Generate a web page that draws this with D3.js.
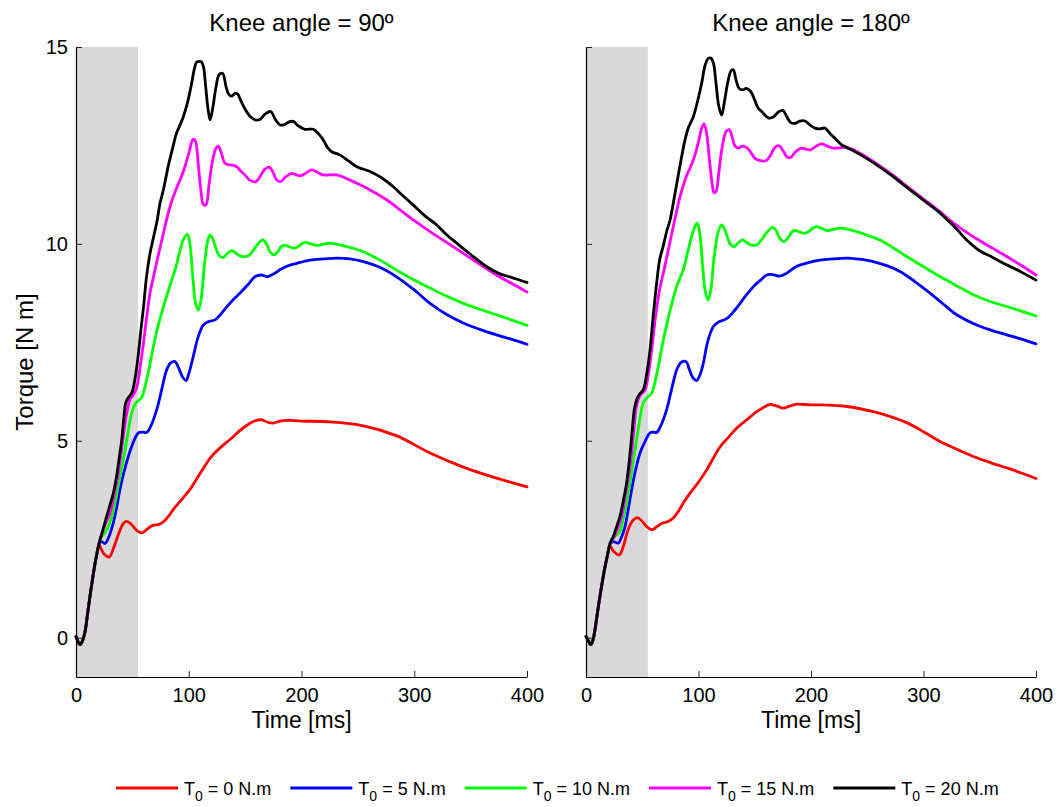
<!DOCTYPE html>
<html>
<head>
<meta charset="utf-8">
<script src="https://cdn.jsdelivr.net/npm/d3@7"></script>
<style>
  html, body { margin: 0; padding: 0; background: #fff; }
  svg { display: block; font-family: "Liberation Sans", Arial, Helvetica, sans-serif; }
</style>
</head>
<body>
<svg id="chart" width="1061" height="807"></svg>
<script>
// ---------------- DATA ----------------
const xTicks = [0, 100, 200, 300, 400];
const yTicks = [0, 5, 10, 15];
const shadeEnd = 55; // ms, grey band 0..55
const panelTitles = ["Knee angle = 90º", "Knee angle = 180º"];
const seriesNames = ["T0 = 0 N.m", "T0 = 5 N.m", "T0 = 10 N.m", "T0 = 15 N.m", "T0 = 20 N.m"];
const seriesColors = ["#ff0000", "#0000ff", "#00ff00", "#ff00ff", "#000000"];

// Knee angle = 90º  ([time ms, torque N m])
const red90 = [[0,0.03],[1.5,-0.08],[3.5,-0.18],[5.5,-0.1],[8,0.15],[10,0.55],[12.4,1.05],[15,1.55],[17,1.9],[19,2.2],[20.7,2.36],[22,2.27],[25,2.12],[29.6,2.05],[33,2.25],[38,2.65],[42,2.9],[45,2.95],[49,2.88],[54,2.72],[58.5,2.66],[63,2.75],[68,2.85],[73,2.87],[77.5,2.94],[82,3.08],[87,3.28],[95,3.55],[102,3.8],[107,4.03],[113,4.3],[119,4.56],[127,4.8],[136.6,5.03],[145,5.25],[153,5.42],[160,5.52],[165,5.53],[170,5.47],[175,5.45],[181,5.5],[187,5.52],[200,5.5],[225,5.48],[255,5.38],[284,5.13],[314,4.69],[343.5,4.33],[373,4.05],[400,3.83]];
const blue90 = [[0,0.03],[1.5,-0.08],[3.5,-0.18],[5.5,-0.1],[8,0.15],[10,0.55],[12.4,1.05],[15,1.55],[17,1.9],[19,2.2],[20.7,2.4],[22.5,2.44],[25.7,2.39],[29,2.55],[33,2.91],[36,3.3],[39,3.76],[42.5,4.2],[46.4,4.6],[50,4.9],[55.3,5.2],[59,5.22],[62.7,5.21],[66,5.35],[71.6,5.79],[76,6.3],[80.4,6.8],[84,6.98],[87.8,7.01],[91,6.85],[94.5,6.62],[97.6,6.53],[100,6.7],[104,7.14],[108.5,7.65],[113,7.94],[118,8.03],[123.3,8.07],[128,8.2],[133.7,8.4],[140,8.6],[145.5,8.75],[152,8.95],[159,9.17],[164,9.21],[170,9.17],[176,9.25],[182,9.36],[187,9.43],[195,9.5],[207.5,9.59],[220,9.62],[231,9.64],[243,9.62],[255,9.55],[270,9.4],[284,9.17],[300,8.83],[314,8.49],[328,8.22],[343.5,7.99],[358,7.83],[373,7.69],[386,7.58],[400,7.45]];
const green90 = [[0,0.03],[1.5,-0.08],[3.5,-0.18],[5.5,-0.1],[8,0.15],[10,0.55],[12.4,1.05],[15,1.55],[17,1.9],[19,2.2],[20.7,2.42],[22.8,2.57],[25.5,2.65],[28.7,2.83],[31.5,3.05],[34.6,3.42],[38,3.95],[42,4.52],[45.5,5.1],[49.4,5.7],[53,5.95],[58.3,6.1],[61,6.35],[64.2,6.75],[68,7.3],[71.6,7.78],[77,8.35],[83.4,8.95],[88,9.35],[92,9.8],[95,10.1],[98.8,10.25],[101,10.0],[103.5,9.2],[106,8.5],[108.5,8.32],[111,8.6],[114,9.5],[117,10.1],[118.9,10.23],[121,10.15],[124,9.9],[127,9.7],[130.7,9.66],[134,9.75],[138.1,9.83],[143,9.74],[147,9.68],[151,9.68],[155,9.75],[160,9.95],[165.6,10.1],[169,10.0],[172,9.8],[175.6,9.72],[179,9.8],[182,9.93],[185.4,9.97],[189,9.93],[194,9.89],[198,9.95],[203,10.04],[208,10.0],[213.5,9.96],[219,9.99],[225,10.02],[232,9.99],[240,9.93],[250,9.85],[261,9.72],[272,9.55],[284,9.34],[300,9.08],[314,8.88],[328,8.68],[343.5,8.49],[358,8.34],[373,8.2],[386,8.07],[400,7.93]];
const magenta90 = [[0,0.03],[1.5,-0.08],[3.5,-0.18],[5.5,-0.1],[8,0.15],[10,0.55],[12.4,1.05],[15,1.55],[17,1.9],[19,2.2],[20.7,2.42],[22.5,2.6],[24.2,2.74],[27,2.95],[30.2,3.16],[33,3.5],[37.5,4.18],[41,4.9],[45,5.7],[48,6.05],[50.5,6.15],[53.8,6.35],[57,6.9],[59.7,7.45],[62.5,8.1],[65.6,8.75],[68.6,9.15],[74.5,9.9],[79,10.45],[83.4,10.95],[89,11.4],[95.2,11.84],[100,12.3],[104,12.66],[106,12.6],[108.5,12.0],[111,11.3],[113,11.0],[115.3,10.99],[118,11.5],[121,12.1],[124,12.42],[126.2,12.48],[129,12.3],[132,12.05],[135.1,12.01],[138.5,12.0],[142.5,11.96],[146,11.85],[149.9,11.75],[154,11.62],[159.6,11.58],[163,11.7],[167,11.88],[171.4,11.95],[175,11.8],[178,11.62],[181.5,11.58],[186,11.7],[191.3,11.79],[195,11.76],[199.3,11.73],[204,11.8],[209,11.88],[214,11.82],[219.3,11.75],[231.2,11.75],[243,11.62],[252,11.5],[260.8,11.37],[275.5,11.12],[290.3,10.8],[302,10.55],[314,10.31],[328,10.05],[343.5,9.76],[358,9.48],[373,9.21],[386,9.0],[400,8.78]];
const black90 = [[0,0.03],[1.5,-0.08],[3.5,-0.18],[5.5,-0.1],[8,0.15],[10,0.55],[12.4,1.05],[15,1.55],[17,1.9],[19,2.2],[20.7,2.42],[22,2.55],[24,2.75],[27.2,3.08],[30,3.35],[33.1,3.67],[36,4.1],[38.5,4.6],[40.5,5.0],[42.5,5.6],[44,5.95],[46,6.08],[49.4,6.21],[52.5,6.6],[55.3,7.2],[57.5,7.8],[59.7,8.35],[62.7,9.2],[65.6,9.75],[68.6,10.15],[72,10.6],[74.5,11.03],[77.5,11.37],[82,12.0],[86.3,12.5],[89,12.8],[92,13.0],[95.2,13.23],[99,13.6],[102.6,14.08],[105,14.45],[107,14.62],[108.5,14.63],[111,14.63],[113,14.5],[115,14.0],[117,13.45],[118.9,13.15],[121,13.4],[124,13.95],[127,14.3],[130.1,14.33],[133,14.0],[135.5,13.8],[138.1,13.75],[141,13.82],[143.5,13.8],[146,13.65],[150,13.42],[155,13.22],[159,13.15],[163,13.16],[168,13.3],[172.7,13.36],[177,13.15],[181,13.02],[185,13.03],[189,13.1],[192.7,13.11],[197,13.0],[203,12.91],[210.5,12.91],[215,12.8],[219.3,12.64],[223,12.45],[226.8,12.34],[234,12.26],[242,12.1],[249,11.96],[260.8,11.84],[271,11.68],[281.4,11.45],[290,11.22],[299,10.99],[310,10.7],[320,10.48],[328,10.25],[337.6,10.02],[350,9.73],[364.3,9.42],[375,9.25],[386,9.15],[400,9.02]];

// Knee angle = 180º
const red180 = [[0,0.03],[2,-0.08],[4.2,-0.18],[6,-0.08],[8,0.2],[10,0.6],[12.4,1.05],[15,1.5],[17,1.81],[19.5,2.15],[21.3,2.33],[22.5,2.28],[25,2.18],[29.6,2.1],[33,2.3],[37,2.7],[41,2.95],[45.6,3.05],[49,2.98],[54,2.82],[58.5,2.74],[63,2.82],[68,2.91],[73,2.95],[77.6,3.04],[82,3.2],[86.5,3.42],[92,3.65],[100,3.95],[107.3,4.26],[113,4.55],[119.1,4.84],[127,5.1],[135,5.35],[142.8,5.53],[150,5.7],[157,5.83],[163,5.92],[168,5.9],[175,5.83],[181,5.88],[187.3,5.93],[200,5.91],[208,5.91],[231.7,5.87],[255.4,5.74],[270,5.62],[285,5.46],[300,5.23],[314.7,4.98],[330,4.78],[344.3,4.6],[360,4.44],[374,4.31],[387,4.18],[400,4.04]];
const blue180 = [[0,0.03],[2,-0.08],[4.2,-0.18],[6,-0.08],[8,0.2],[10,0.6],[12.4,1.05],[15,1.5],[17,1.81],[19.5,2.15],[21.3,2.38],[24.3,2.44],[28.7,2.4],[31.5,2.55],[34.7,2.82],[37.5,3.25],[40.6,3.76],[44,4.25],[48,4.69],[52,4.95],[56.9,5.2],[60,5.22],[62.8,5.21],[66,5.35],[71.7,5.79],[76,6.3],[80,6.75],[82,6.89],[85,7.0],[88.9,7.01],[92,6.8],[95,6.6],[98.4,6.53],[101,6.65],[104.3,6.97],[108,7.5],[113.2,7.9],[118,8.02],[122,8.06],[126,8.12],[132.4,8.32],[137,8.49],[142.8,8.71],[150,8.95],[156,9.1],[160.6,9.21],[166,9.22],[172,9.18],[178,9.25],[187.3,9.43],[197,9.52],[208,9.59],[220,9.62],[231.7,9.64],[243,9.61],[255.4,9.55],[268,9.44],[279.1,9.3],[292,9.05],[305.8,8.75],[318,8.46],[329.5,8.2],[347.3,7.94],[360,7.81],[374,7.69],[387,7.58],[400,7.46]];
const green180 = [[0,0.03],[2,-0.08],[4.2,-0.18],[6,-0.08],[8,0.2],[10,0.6],[12.4,1.05],[15,1.5],[17,1.81],[19.5,2.15],[21.3,2.38],[24.3,2.53],[27,2.6],[30.2,2.7],[33,3.0],[36.1,3.42],[40,4.1],[43.6,4.77],[47,5.4],[50.9,5.96],[54.5,6.1],[58.4,6.21],[61,6.45],[64.3,6.89],[68,7.45],[71.7,7.95],[76,8.45],[80.6,8.92],[86.5,9.34],[90,9.75],[94,10.2],[97,10.45],[98.9,10.53],[101,10.3],[103.5,9.5],[106,8.8],[108.7,8.58],[111,8.85],[114,9.7],[117.5,10.3],[120.6,10.48],[123,10.38],[126,10.15],[128.5,9.98],[131.6,9.93],[135,10.02],[139.3,10.1],[143,10.03],[147,9.97],[151.7,9.97],[156,10.1],[161,10.3],[166,10.42],[169,10.34],[172.5,10.13],[176,10.06],[179.5,10.15],[183,10.3],[185.8,10.34],[190,10.3],[194.7,10.27],[199,10.34],[204.4,10.44],[209,10.4],[214,10.34],[220,10.37],[225.8,10.4],[233,10.37],[240.6,10.31],[250,10.22],[261.3,10.1],[273,9.9],[285,9.68],[300,9.42],[314.7,9.17],[330,8.93],[344.3,8.71],[358,8.55],[374,8.41],[387,8.29],[400,8.17]];
const magenta180 = [[0,0.03],[2,-0.08],[4.2,-0.18],[6,-0.08],[8,0.2],[10,0.6],[12.4,1.05],[15,1.5],[17,1.81],[19.5,2.15],[21.3,2.38],[23,2.47],[25.8,2.6],[28.5,2.8],[31.7,3.08],[35,3.6],[39.1,4.35],[42,5.1],[45,5.9],[48,6.15],[52.4,6.29],[55.5,6.7],[58.4,7.31],[62,8.2],[65.8,8.9],[68.7,9.25],[73.2,9.85],[78,10.5],[83.6,11.2],[89,11.7],[95.4,12.13],[100,12.6],[103,12.95],[104.9,13.05],[107,12.85],[109.5,12.2],[112,11.55],[113.8,11.3],[115.6,11.33],[118,11.8],[121,12.45],[124.5,12.85],[127.4,12.9],[130,12.7],[132.5,12.48],[135.4,12.43],[139,12.48],[143.4,12.43],[147,12.3],[150.2,12.17],[154,12.12],[160,12.11],[164,12.25],[168,12.45],[171.8,12.49],[175.5,12.35],[179,12.2],[182,12.2],[186,12.33],[191.7,12.43],[195,12.41],[199.7,12.39],[204,12.47],[209.5,12.54],[214,12.49],[219.8,12.43],[231.7,12.45],[243,12.31],[255,12.1],[270,11.8],[285,11.47],[300,11.14],[314,10.83],[328,10.5],[338,10.3],[350,10.08],[362,9.88],[374,9.68],[387,9.45],[400,9.21]];
const black180 = [[0,0.03],[2,-0.08],[4.2,-0.18],[6,-0.08],[8,0.2],[10,0.6],[12.4,1.05],[15,1.5],[17,1.81],[19.5,2.15],[21.3,2.38],[22.5,2.47],[24.3,2.57],[27,2.8],[30.2,3.08],[33,3.45],[36.1,3.93],[38.5,4.5],[40.6,5.11],[43,5.8],[45,6.04],[48,6.2],[50.9,6.29],[54,6.7],[56.9,7.31],[59.5,8.1],[62.8,9.0],[65.5,9.6],[68.7,9.95],[72,10.35],[74.7,10.6],[78,11.1],[83,11.9],[88,12.64],[91,12.95],[95.4,13.23],[99,13.6],[102.8,14.08],[106,14.55],[108.7,14.71],[111,14.72],[113.2,14.6],[115.5,14.1],[118,13.5],[120.6,13.27],[123,13.6],[126,14.1],[129,14.4],[130.9,14.42],[133.5,14.15],[136,13.95],[139.3,13.91],[142.5,13.95],[146.4,13.87],[150,13.65],[153,13.45],[156.2,13.36],[159,13.27],[162,13.2],[166.5,13.22],[171,13.35],[175,13.39],[179,13.2],[182,13.08],[185.8,13.06],[190,13.12],[194.7,13.12],[199,13.02],[203.6,12.94],[208,12.92],[212.4,12.94],[217,12.8],[222.8,12.64],[227,12.52],[231.7,12.45],[243,12.28],[255,12.07],[270,11.77],[285,11.44],[300,11.11],[314,10.8],[328,10.42],[338.4,10.1],[350.2,9.82],[360,9.68],[368,9.55],[386,9.3],[400,9.08]];

const panelSeries = [
  [red90, blue90, green90, magenta90, black90],
  [red180, blue180, green180, magenta180, black180]
];

// ---------------- LAYOUT ----------------
const svg = d3.select("#chart");
const panels = [
  { x0: 76, x1: 527, showYLabels: true },
  { x0: 586, x1: 1036, showYLabels: false }
];
const yTop = 47, yBot = 677;
const FONT_TICK = 20, FONT_LABEL = 23, FONT_TITLE = 24, FONT_LEG = 18;

panels.forEach((p, i) => {
  const x = d3.scaleLinear().domain([0, 400]).range([p.x0, p.x1]);
  const y = d3.scaleLinear().domain([-1, 15]).range([yBot, yTop]);
  const g = svg.append("g");

  // grey band
  g.append("rect")
    .attr("x", x(0)).attr("y", y(15))
    .attr("width", x(shadeEnd) - x(0))
    .attr("height", y(-1) - y(15))
    .attr("fill", "#d9d9d9");

  // lines
  const line = d3.line()
    .x(d => x(d[0])).y(d => y(d[1]))
    .curve(d3.curveCatmullRom.alpha(0.5));
  panelSeries[i].forEach((s, k) => {
    g.append("path")
      .datum(s)
      .attr("d", line)
      .attr("fill", "none")
      .attr("stroke", seriesColors[k])
      .attr("stroke-width", 2.8)
      .attr("stroke-linejoin", "round")
      .attr("stroke-linecap", "round");
  });

  // axes
  const xAxis = d3.axisBottom(x).tickValues(xTicks)
    .tickSizeInner(-6).tickSizeOuter(0).tickPadding(11);
  const gx = g.append("g").attr("transform", `translate(0,${yBot})`).call(xAxis);
  const yAxis = d3.axisLeft(y).tickValues(yTicks)
    .tickSizeInner(-6).tickSizeOuter(0).tickPadding(8);
  if (!p.showYLabels) yAxis.tickFormat("");
  const gy = g.append("g").attr("transform", `translate(${p.x0},0)`).call(yAxis);

  [gx, gy].forEach(a => {
    a.selectAll("path.domain").attr("stroke", "#000").attr("stroke-width", 1.2);
    a.selectAll(".tick line").attr("stroke", "#222").attr("stroke-width", 1);
    a.selectAll(".tick text").attr("fill", "#000")
      .style("font-size", FONT_TICK + "px")
      .style("font-family", '"Liberation Sans", Arial, sans-serif');
  });

  // title
  svg.append("text")
    .attr("x", (p.x0 + p.x1) / 2).attr("y", 31)
    .attr("text-anchor", "middle")
    .style("font-size", FONT_TITLE + "px")
    .text(panelTitles[i]);

  // x label
  svg.append("text")
    .attr("x", (p.x0 + p.x1) / 2).attr("y", 728)
    .attr("text-anchor", "middle")
    .style("font-size", FONT_LABEL + "px")
    .text("Time [ms]");

  if (i === 0) {
    svg.append("text")
      .attr("transform", `translate(33,${(yTop + yBot) / 2}) rotate(-90)`)
      .attr("text-anchor", "middle")
      .style("font-size", "24px")
      .text("Torque [N m]");
  }
});

// ---------------- LEGEND ----------------
const leg = svg.append("g");
let lx = 116;
const ly = 788, lineLen = 62;
seriesNames.forEach((name, k) => {
  leg.append("line")
    .attr("x1", lx).attr("x2", lx + lineLen)
    .attr("y1", ly).attr("y2", ly)
    .attr("stroke", seriesColors[k]).attr("stroke-width", 3);
  const t = leg.append("text")
    .attr("x", lx + lineLen + 6).attr("y", ly + 7)
    .style("font-size", FONT_LEG + "px");
  const rest = name.slice(2); // after "T0"
  t.append("tspan").text("T");
  t.append("tspan").attr("dy", 6).style("font-size", "14px").text("0");
  t.append("tspan").attr("dy", -6).text(rest);
  const w = t.node().getComputedTextLength();
  lx = lx + lineLen + 6 + w + 19;
});
</script>
</body>
</html>
